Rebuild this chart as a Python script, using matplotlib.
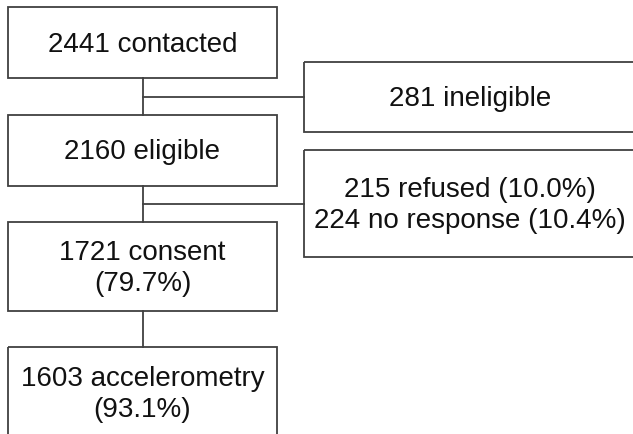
import matplotlib.pyplot as plt
from matplotlib.patches import Rectangle

# flow steps (main column) and exclusions (side column)
main_labels = ["2441 contacted", "2160 eligible", "1721 consent\n(79.7%)",
               "1603 accelerometry\n(93.1%)"]
side_labels = ["281 ineligible", "215 refused (10.0%)\n224 no response (10.4%)"]

# box geometry in pixel coords (x0, y0, x1, y1), y grows downward
main_boxes = [(8, 8, 277, 79), (8, 116, 277, 187), (8, 223, 277, 312),
              (8, 348, 277, 439)]
side_boxes = [(304, 63, 636, 133), (304, 151, 636, 258)]
branch_y = [98, 205]

line_col = "#404040"
lw = 1.3

fig = plt.figure(figsize=(6.33, 4.35), dpi=100)
ax = fig.add_axes([0, 0, 1, 1])
ax.set_xlim(0, 633)
ax.set_ylim(435, 0)
ax.axis("off")

def box(b, text):
    x0, y0, x1, y1 = b
    ax.add_patch(Rectangle((x0, y0), x1 - x0, y1 - y0, fill=False,
                           edgecolor=line_col, linewidth=lw, clip_on=False))
    ax.text((x0 + x1) / 2, (y0 + y1) / 2 + 1, text, ha="center", va="center",
            fontsize=20, family="Liberation Sans", linespacing=1.28,
            color="#111111")

for b, t in zip(main_boxes, main_labels):
    box(b, t)
for b, t in zip(side_boxes, side_labels):
    box(b, t)

cx = (main_boxes[0][0] + main_boxes[0][2]) / 2
# vertical connectors between main boxes
for upper, lower in zip(main_boxes[:-1], main_boxes[1:]):
    ax.plot([cx, cx], [upper[3], lower[1]], color=line_col, lw=lw)
# branches to exclusion boxes
for y, sb in zip(branch_y, side_boxes):
    ax.plot([cx, sb[0]], [y, y], color=line_col, lw=lw)

fig.savefig("out.png", dpi=100, facecolor="white")
